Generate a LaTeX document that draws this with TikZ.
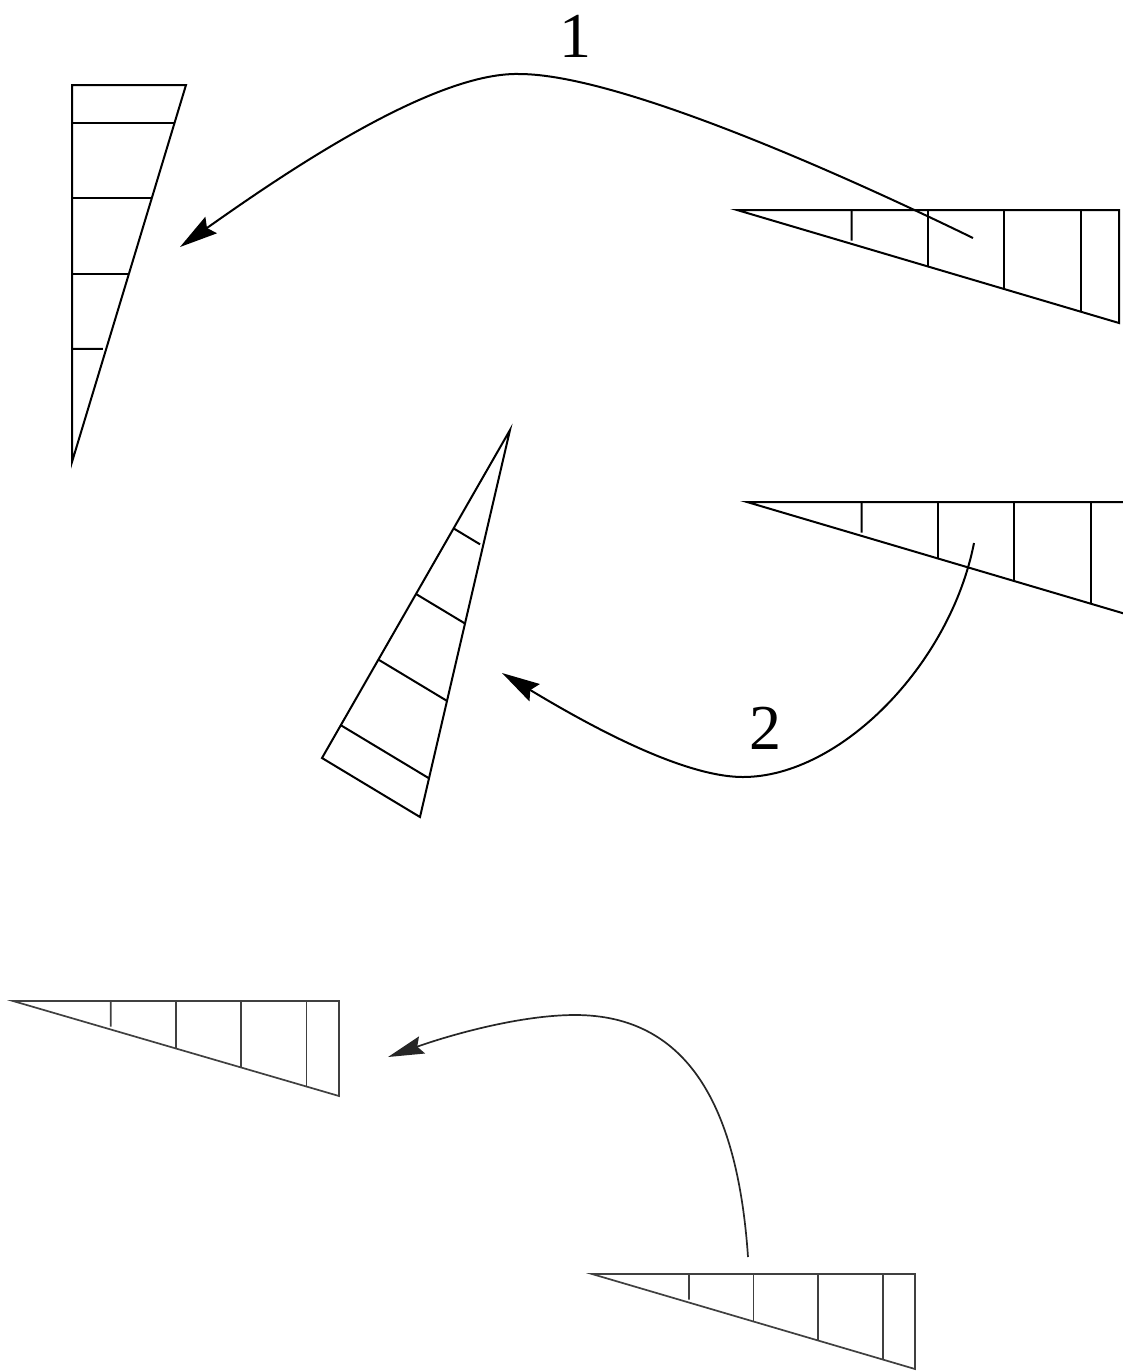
\documentclass[tikz,border=0pt]{standalone}
\usepackage{fontspec}
\newfontfamily\labfont{Liberation Serif}
\usetikzlibrary{calc,arrows.meta}
\tikzset{
  tri/.style={line width=2pt, line join=miter, draw=black},
  trilight/.style={line width=1.7pt, line join=miter, draw=black!75},
  flow/.style={line width=2pt, draw=black, -{Stealth[length=38pt,width=20pt,inset=5pt]}},
  flowlight/.style={line width=1.7pt, draw=black!85, -{Stealth[length=36pt,width=18pt,inset=5pt]}},
  lab/.style={font=\labfont\fontsize{64}{64}\selectfont, inner sep=0pt},
}
\newcommand\hatchtri[2]{%
  \draw[#1] (#2A) -- (#2B) -- (#2C) -- cycle;
  \foreach \t in {0.1,0.3,0.5} \draw[#1] ($(#2A)!\t!(#2C)$) -- ($(#2B)!\t!(#2C)$);
  \coordinate (#2p) at ($(#2A)!0.7!(#2C)$);
  \coordinate (#2q) at ($(#2B)!0.7!(#2C)$);
  \draw[#1] (#2p) -- ($(#2p)!0.9!(#2q)$);
}
\begin{document}
\begin{tikzpicture}[x=1pt,y=-1pt]
\useasboundingbox (0,0) rectangle (1123,1371);
\fill[white] (0,0) rectangle (1123,1371);
\clip (0,0) rectangle (1123,1371);

% triangle 1 (top left)
\coordinate (aA) at (72,85);
\coordinate (aB) at (186,85);
\coordinate (aC) at (72,462);
\hatchtri{tri}{a}

% triangle 2 (top right)
\coordinate (bA) at (1119,210);
\coordinate (bB) at (1119,323);
\coordinate (bC) at (737,210);
\hatchtri{tri}{b}

% triangle 3 (middle right, cut by the border)
\coordinate (cA) at (1129,502);
\coordinate (cB) at (1129,615);
\coordinate (cC) at (747,502);
\hatchtri{tri}{c}

% triangle 4 (rotated, middle)
\coordinate (dA) at (322,758);
\coordinate (dB) at (420,817);
\coordinate (dC) at (510,430);
\hatchtri{tri}{d}

% triangle 5 (bottom left)
\coordinate (eA) at (339,1001);
\coordinate (eB) at (339,1096);
\coordinate (eC) at (13,1001);
\hatchtri{trilight}{e}

% triangle 6 (bottom right)
\coordinate (fA) at (915,1274);
\coordinate (fB) at (915,1369);
\coordinate (fC) at (592,1274);
\hatchtri{trilight}{f}

% arrow 1
\coordinate (a1s) at (973,238);
\coordinate (a1m) at (519,74);
\coordinate (a1e) at (180,247);
\draw[flow] (a1s) .. controls (850,178) and (620,74) .. (a1m)
                  .. controls (430,72) and (275,180) .. (a1e);
\node[lab] (l1) at (575,36) {1};

% arrow 2
\coordinate (a2s) at (974,543);
\coordinate (a2m) at (743,777);
\coordinate (a2e) at (502,673);
\draw[flow] (a2s) .. controls (950,665) and (840,777) .. (a2m)
                  .. controls (680,777) and (580,720) .. (a2e);
\node[lab] (l2) at (765,728) {2};

% arrow 3
\coordinate (a3s) at (748,1257);
\coordinate (a3m) at (575,1015);
\coordinate (a3e) at (388,1057);
\draw[flowlight] (a3s) .. controls (738,1110) and (690,1015) .. (a3m)
                       .. controls (520,1015) and (450,1035) .. (a3e);
\end{tikzpicture}
\end{document}
